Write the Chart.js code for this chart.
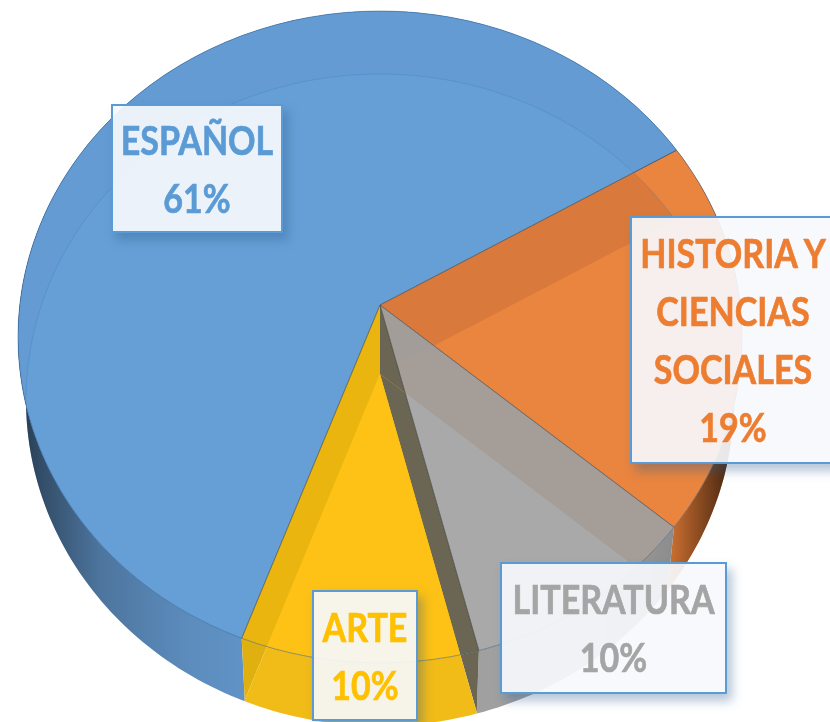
<!DOCTYPE html>
<html lang="es">
<head>
<meta charset="utf-8">
<title>Materias</title>
<script src="https://cdn.jsdelivr.net/npm/chart.js@4"></script>
<style>
    html, body { margin: 0; padding: 0; background: #fff; overflow: hidden; width: 830px; height: 722px; }
    #wrap { position: relative; width: 830px; height: 722px; overflow: hidden; }
    #chart { position: absolute; left: 0; top: 0; }
    .box {
        position: absolute;
        box-sizing: border-box;
        border: 2.5px solid #5b9bd5;
        background: rgba(246, 248, 252, 0.92);
        box-shadow: 5px 7px 10px rgba(40, 90, 140, 0.35);
        font-family: Lato, "Open Sans", sans-serif;
        font-weight: 700;
        text-align: center;
        display: flex;
        flex-direction: column;
        justify-content: center;
    }
    .box span {
        display: block;
        margin: 0 -80px;
        font-size: 41px;
        line-height: 58px;
        height: 58px;
        white-space: nowrap;
        transform: scaleX(0.83);
        -webkit-text-stroke: 0.7px currentColor;
    }
</style>
</head>
<body>
<div id="wrap">
    <canvas id="chart" width="830" height="722"></canvas>
</div>
<script>
const categories = ['ESPAÑOL', 'HISTORIA Y CIENCIAS SOCIALES', 'LITERATURA', 'ARTE'];
const values = [61, 19, 10, 10];
const labelLines = [['ESPAÑOL'], ['HISTORIA Y', 'CIENCIAS', 'SOCIALES'], ['LITERATURA'], ['ARTE']];
const textColors = ['#5b9bd5', '#ed7d31', '#a5a5a5', '#ffc000'];

// label boxes: left, top, width, height
const labelBoxes = [[111, 104, 172, 129], [630, 216, 206, 248], [500, 562, 227, 132], [312, 590, 106, 131]];

// -- 3D look: the pie is see-through, top face and bottom face are both visible --
const SQUASH = 0.93;
const ROTATION = 201.1;
const TOP = { x: 380, y: 305, cx: 380, cy: 337, a: 362, b: 326 };
const BOTTOM = { x: 380, y: 374, cx: 380, cy: 400, a: 354, b: 326 };

// colour of a top slice (row) seen over a bottom slice (column)
const rimColors = ['#639bd2', '#e9853f', '#a9a9a9', '#fdc215'];
const faceColors = [
    ['#669fd5', '#669fd5', '#669fd5', '#669fd5'],
    ['#d97a3c', '#e9853f', '#e9853f', '#e9853f'],
    ['#a39d9a', '#a59d97', '#a9a9a9', '#a9a9a9'],
    ['#ebb50f', '#6b6553', '#6b6553', '#fdc215']
];
const wallColors = [
    ['#6092c5', '#6092c5', '#6092c5', '#6092c5'],
    ['#e47c36', '#e47c36', '#e47c36', '#e47c36'],
    ['#a0a0a0', '#a0a0a0', '#a0a0a0', '#a0a0a0'],
    ['#e0b010', '#6b6553', '#6b6553', '#f2bc18']
];
const INNER_WALL = '#6b6553';
const ARTE = categories.indexOf('ARTE');

function rimPoint(angle) {
    const dx = Math.cos(angle), dy = SQUASH * Math.sin(angle);
    const px = (TOP.x - TOP.cx) / TOP.a, py = (TOP.y - TOP.cy) / TOP.b;
    const qx = dx / TOP.a, qy = dy / TOP.b;
    const A = qx * qx + qy * qy, B = 2 * (px * qx + py * qy), C = px * px + py * py - 1;
    const t = (-B + Math.sqrt(B * B - 4 * A * C)) / (2 * A);
    const x = TOP.x + t * dx, y = TOP.y + t * dy;
    return { x, y, phi: Math.atan2((y - TOP.cy) / TOP.b, (x - TOP.cx) / TOP.a) };
}

function rimPoints(arc) {
    const pts = [];
    const steps = Math.ceil((arc.endAngle - arc.startAngle) / 0.02);
    for (let s = 0; s <= steps; s++) {
        pts.push(rimPoint(arc.startAngle + (arc.endAngle - arc.startAngle) * s / steps));
    }
    return pts;
}

function clipFace(ctx, arc) {
    ctx.beginPath();
    ctx.moveTo(TOP.x, TOP.y);
    rimPoints(arc).forEach(p => ctx.lineTo(p.x, p.y));
    ctx.closePath();
    ctx.clip();
}

function clipWall(ctx, arc) {
    const pts = rimPoints(arc);
    ctx.beginPath();
    pts.forEach((p, i) => i ? ctx.lineTo(p.x, p.y) : ctx.moveTo(p.x, p.y));
    pts.reverse().forEach(p => ctx.lineTo(BOTTOM.cx + BOTTOM.a * Math.cos(p.phi), BOTTOM.cy + BOTTOM.b * Math.sin(p.phi)));
    ctx.closePath();
    ctx.clip();
}

function clipEllipse(ctx, e) {
    ctx.beginPath();
    ctx.ellipse(e.cx, e.cy, e.a, e.b, 0, 0, Math.PI * 2);
    ctx.clip();
}

// lets the library draw its own arc, moved and squashed onto a given apex
function drawArc(ctx, arc, apex, overrides) {
    const saved = arc.options;
    arc.options = Object.assign(Object.create(saved), overrides);
    ctx.save();
    ctx.translate(apex.x, apex.y);
    ctx.scale(1, SQUASH);
    ctx.translate(-arc.x, -arc.y);
    arc.draw(ctx);
    ctx.restore();
    arc.options = saved;
}

function wallShade(ctx) {
    const g = ctx.createLinearGradient(17, 0, 742, 0);
    const stops = [[17, 0.62], [40, 0.48], [100, 0.2], [190, 0.04], [240, 0], [600, 0], [672, 0.12], [700, 0.4], [742, 0.8]];
    stops.forEach(s => g.addColorStop((s[0] - 17) / 725, `rgba(0,0,0,${s[1]})`));
    ctx.fillStyle = g;
    ctx.fillRect(0, 0, 830, 722);
}

const pie3d = {
    id: 'pie3d',
    beforeDatasetsDraw(chart) {
        const ctx = chart.ctx;
        const arcs = chart.getDatasetMeta(0).data;

        // side walls first
        arcs.forEach((arc, i) => {
            ctx.save();
            clipWall(ctx, arc);
            arcs.forEach((under, j) => drawArc(ctx, under, BOTTOM, { backgroundColor: wallColors[i][j], borderWidth: 0 }));
            wallShade(ctx);
            ctx.restore();
        });

        // top face, with the bottom slices showing through it
        arcs.forEach((arc, i) => {
            ctx.save();
            clipFace(ctx, arc);
            drawArc(ctx, arc, TOP, { backgroundColor: rimColors[i], borderWidth: 0 });
            ctx.save();
            clipEllipse(ctx, BOTTOM);
            arcs.forEach((under, j) => drawArc(ctx, under, BOTTOM, { backgroundColor: faceColors[i][j], borderWidth: 0 }));
            ctx.restore();
            if (i === ARTE) {
                // inner wall of the slice, from the top apex straight down to the bottom apex
                ctx.fillStyle = INNER_WALL;
                ctx.fillRect(TOP.x, TOP.y, 60, BOTTOM.y - TOP.y);
            }
            ctx.restore();
        });

        // thin edges
        ctx.save();
        clipEllipse(ctx, TOP);
        ctx.strokeStyle = 'rgba(70,130,190,0.35)';
        ctx.lineWidth = 1;
        ctx.beginPath();
        ctx.ellipse(BOTTOM.cx, BOTTOM.cy, BOTTOM.a, BOTTOM.b, 0, 0, Math.PI * 2);
        ctx.stroke();
        arcs.forEach(arc => drawArc(ctx, arc, TOP, { backgroundColor: 'transparent', borderWidth: 1, borderColor: 'rgba(60,70,80,0.4)' }));
        ctx.restore();

        ctx.strokeStyle = 'rgba(40,90,140,0.5)';
        ctx.lineWidth = 1;
        ctx.beginPath();
        ctx.ellipse(TOP.cx, TOP.cy, TOP.a, TOP.b, 0, 0, Math.PI * 2);
        ctx.stroke();
        return false;
    }
};

new Chart(document.getElementById('chart'), {
    type: 'pie',
    data: {
        labels: categories,
        datasets: [{ data: values, backgroundColor: rimColors, borderWidth: 0 }]
    },
    options: {
        responsive: false,
        animation: false,
        radius: 1200,
        rotation: ROTATION,
        layout: { padding: 0 },
        plugins: { legend: { display: false }, tooltip: { enabled: false } }
    },
    plugins: [pie3d]
});

// -- Labels --
const wrap = document.getElementById('wrap');
categories.forEach((cat, i) => {
    const [left, top, width, height] = labelBoxes[i];
    const box = document.createElement('div');
    box.className = 'box';
    box.style.cssText = `left:${left}px;top:${top}px;width:${width}px;height:${height}px;color:${textColors[i]}`;
    labelLines[i].concat(values[i] + '%').forEach(line => {
        const span = document.createElement('span');
        span.textContent = line;
        box.appendChild(span);
    });
    wrap.appendChild(box);
});
</script>
</body>
</html>
